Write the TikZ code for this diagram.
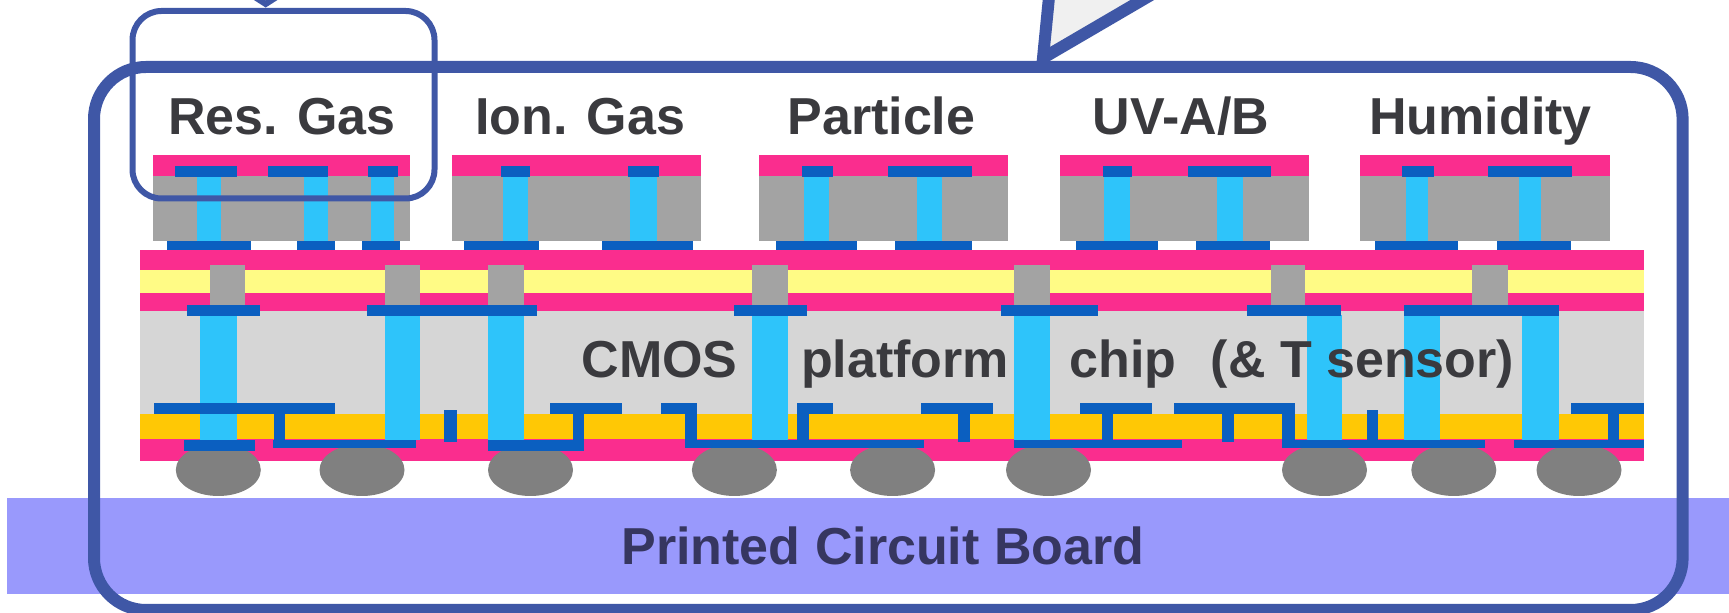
\documentclass[tikz,border=0pt]{standalone}
\usepackage{fontspec}
\setmainfont{Liberation Sans}
\definecolor{pinklayer}{HTML}{FA2D8E}
\definecolor{padblue}{HTML}{0B5FC0}
\definecolor{viablue}{HTML}{2EC4FA}
\definecolor{chipgray}{HTML}{A3A3A3}
\definecolor{cmosgray}{HTML}{D6D6D6}
\definecolor{oxideyellow}{HTML}{FFFB85}
\definecolor{metalorange}{HTML}{FFC805}
\definecolor{bumpgray}{HTML}{808080}
\definecolor{boardblue}{HTML}{9999FC}
\definecolor{framblue}{HTML}{3F57A6}
\definecolor{labeldark}{HTML}{3A3A3E}
\definecolor{boardtext}{HTML}{363660}
\definecolor{calloutgray}{HTML}{F0F0F0}
\tikzset{
  sensorlabel/.style={anchor=base, text=labeldark, font=\fontsize{26}{30}\selectfont\bfseries, inner sep=0pt},
  frameline/.style={draw=framblue, line join=miter}
}
\begin{document}
\begin{tikzpicture}[x=0.5pt, y=-0.5pt]
\useasboundingbox (0,0) rectangle (1729,613);
\clip (0,0) rectangle (1729,613);
% board
\fill[boardblue] (7,497.7) rectangle (1729,594);
% sensor dies
\foreach \a/\b in {152.7/409.5, 451.6/700.6, 759/1008.3, 1059.5/1308.7, 1360/1610} {
  \fill[pinklayer] (\a,155) rectangle (\b,175.7);
  \fill[chipgray] (\a,175.7) rectangle (\b,240.7);
}
\foreach \a/\b in {196.7/220.8, 303.5/328, 371.2/394.2, 503.3/528, 629.8/656.5, 803.9/828.8, 916.8/941.7, 1104.3/1130, 1217.3/1242.9, 1405.5/1427.7, 1518.8/1541.4}
  \fill[viablue] (\a,176) rectangle (\b,240.7);
\foreach \a/\b in {174.5/236.5, 267.5/327.6, 367.8/398.4, 500.6/529.7, 627.5/658.8, 802.3/833.3, 888/971.9, 1102.8/1132.2, 1188.2/1270.8, 1402/1433.5, 1487.8/1572}
  \fill[padblue] (\a,166) rectangle (\b,177);
\foreach \a/\b in {167.2/250.7, 297/334.5, 362/400, 464.2/538.5, 602.2/693.3, 775.6/857, 895.3/971.9, 1075.6/1157.5, 1195.8/1270.4, 1375/1458.4, 1497.4/1571.3}
  \fill[padblue] (\a,240.7) rectangle (\b,250);
% platform layers
\fill[pinklayer] (139.7,250) rectangle (1644,270);
\fill[oxideyellow] (139.7,270) rectangle (1644,293.5);
\fill[pinklayer] (139.7,293.5) rectangle (1644,310.7);
\fill[cmosgray] (139.7,310.7) rectangle (1644,414.3);
\fill[metalorange] (139.7,414.3) rectangle (1644,439.3);
\fill[pinklayer] (139.7,439.3) rectangle (1644,461.3);
% bumps, flat on top
\begin{scope}
\clip (139.7,449) rectangle (1644,497);
\foreach \c in {218.3, 362, 530.5, 734.4, 892.6, 1048.5, 1324.5, 1453.8, 1579}
  \fill[bumpgray] (\c,470) ellipse [x radius=42.5, y radius=26];
\end{scope}
% plugs and through vias
\foreach \a/\b in {209.7/245, 384.6/419.8, 488/523.5, 751.8/787.8, 1014.4/1050, 1270.8/1305.3, 1471.7/1508}
  \fill[chipgray] (\a,265) rectangle (\b,305);
\foreach \a/\b in {200/236.5, 384.6/419.8, 487.6/524, 751.8/787.8, 1014/1050, 1306.8/1341.6, 1404/1440, 1522.3/1558.6}
  \fill[viablue] (\a,315) rectangle (\b,440);
\foreach \a/\b in {187/260, 367.4/537, 733.5/806.6, 1001/1097.8, 1246.7/1341.2, 1404.4/1558.6}
  \fill[padblue] (\a,305) rectangle (\b,315.7);
% metal, upper level
\foreach \a/\b in {154.2/334.5, 549.5/622.1, 661/696.7, 797.4/833.3, 921.4/993.3, 1079.8/1152, 1174/1294.5, 1571.2/1644}
  \fill[padblue] (\a,403.3) rectangle (\b,414.3);
% metal, lower level
\foreach \a/\b in {272.5/416.4, 684.5/924.4, 1013.6/1181.7, 1282.3/1485, 1513.8/1644}
  \fill[padblue] (\a,440) rectangle (\b,448.3);
\foreach \a/\b in {183.7/254.5, 487.6/584.4}
  \fill[padblue] (\a,440) rectangle (\b,450.7);
% metal, verticals
\foreach \a/\b in {273.6/285, 572.9/584.4, 684.5/696.7, 797.4/808.8, 1101.6/1113, 1282.3/1294.5, 1608.4/1619}
  \fill[padblue] (\a,403.3) rectangle (\b,448.3);
\foreach \a/\b in {958/970.3, 1221.8/1234}
  \fill[padblue] (\a,403.3) rectangle (\b,441.7);
\foreach \a/\b in {444/456.5, 1367.3/1378}
  \fill[padblue] (\a,410) rectangle (\b,441.7);
% labels
\node[sensorlabel] (resgas) at (282,135) {Res. Gas};
\node[sensorlabel] (iongas) at (580,135) {Ion. Gas};
\node[sensorlabel] (particle) at (881.4,135) {Particle};
\node[sensorlabel] (uvab) at (1181,135) {UV-A/B};
\node[sensorlabel] (humidity) at (1480.6,135) {Humidity};
\node[sensorlabel] (cmos) at (659.5,377.3) {CMOS};
\node[sensorlabel] (platform) at (905,377.3) {platform};
\node[sensorlabel] (chip) at (1123,377.3) {chip};
\node[sensorlabel] (tsensor) at (1362.5,377.3) {(\& T sensor)};
\node[sensorlabel, text=boardtext] (board) at (883,565) {Printed Circuit Board};
% callouts and frames
\draw[frameline, fill=calloutgray, line width=6pt] (1050.7,-20)--(1043,58)--(1176.5,-20);
\draw[frameline, line width=3pt, fill=white] (243.9,-10)--(265.7,4)--(287.5,-10);
\draw[frameline, line width=6pt, rounded corners=26pt] (94,67) rectangle (1682.6,610);
\draw[frameline, line width=3pt, rounded corners=14.5pt] (132.5,11) rectangle (434.5,198.5);
\end{tikzpicture}
\end{document}
